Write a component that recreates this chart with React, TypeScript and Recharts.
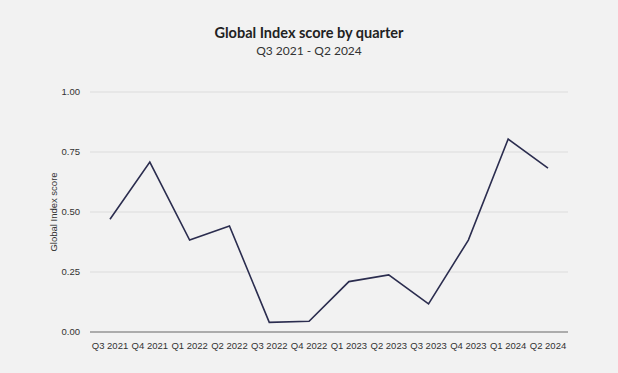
import { LineChart, Line, XAxis, YAxis, CartesianGrid, Label } from "recharts"

const quarters = [
  "Q3 2021", "Q4 2021", "Q1 2022", "Q2 2022", "Q3 2022", "Q4 2022",
  "Q1 2023", "Q2 2023", "Q3 2023", "Q4 2023", "Q1 2024", "Q2 2024",
]
const scores = [0.47, 0.708, 0.383, 0.442, 0.04, 0.045, 0.21, 0.238, 0.117, 0.383, 0.804, 0.683]
const yTicks = [0, 0.25, 0.5, 0.75, 1]

const data = quarters.map((q, i) => ({ quarter: q, score: scores[i] }))

const tickStyle = { fontSize: 9.5, fill: "#333", fontFamily: "'Liberation Sans', Arial, sans-serif" }

export default function App() {
  return (
    <div style={{ position: "fixed", top: 0, left: 0, width: 618, height: 373, background: "#f2f2f2", fontFamily: "Lato, 'Open Sans', sans-serif" }}>
      <div style={{ position: "absolute", top: 24, width: "100%", textAlign: "center", fontSize: 14.5, fontWeight: 700, color: "#222" }}>
        Global Index score by quarter
      </div>
      <div style={{ position: "absolute", top: 43, width: "100%", textAlign: "center", fontSize: 12, color: "#333" }}>
        Q3 2021 - Q2 2024
      </div>
      <LineChart width={618} height={373} data={data} margin={{ top: 92, right: 50, bottom: 11, left: 40 }}>
        <CartesianGrid vertical={false} stroke="#dcdcdc" />
        <XAxis
          dataKey="quarter"
          tickLine={false}
          axisLine={{ stroke: "#999", strokeWidth: 1.5 }}
          tick={tickStyle}
          height={30}
          interval={0}
          tickMargin={4}
          padding={{ left: 20, right: 20 }}
        />
        <YAxis
          domain={[0, 1]}
          ticks={yTicks}
          tickFormatter={(v: number) => v.toFixed(2)}
          axisLine={false}
          tickLine={false}
          tick={tickStyle}
          width={50}
          tickMargin={4}
        >
          <Label
            value="Global Index score"
            angle={-90}
            position="insideLeft"
            offset={14}
            style={{ ...tickStyle, textAnchor: "middle" }}
          />
        </YAxis>
        <Line
          type="linear"
          dataKey="score"
          stroke="#2b2d4f"
          strokeWidth={1.6}
          dot={false}
          isAnimationActive={false}
        />
      </LineChart>
    </div>
  )
}
